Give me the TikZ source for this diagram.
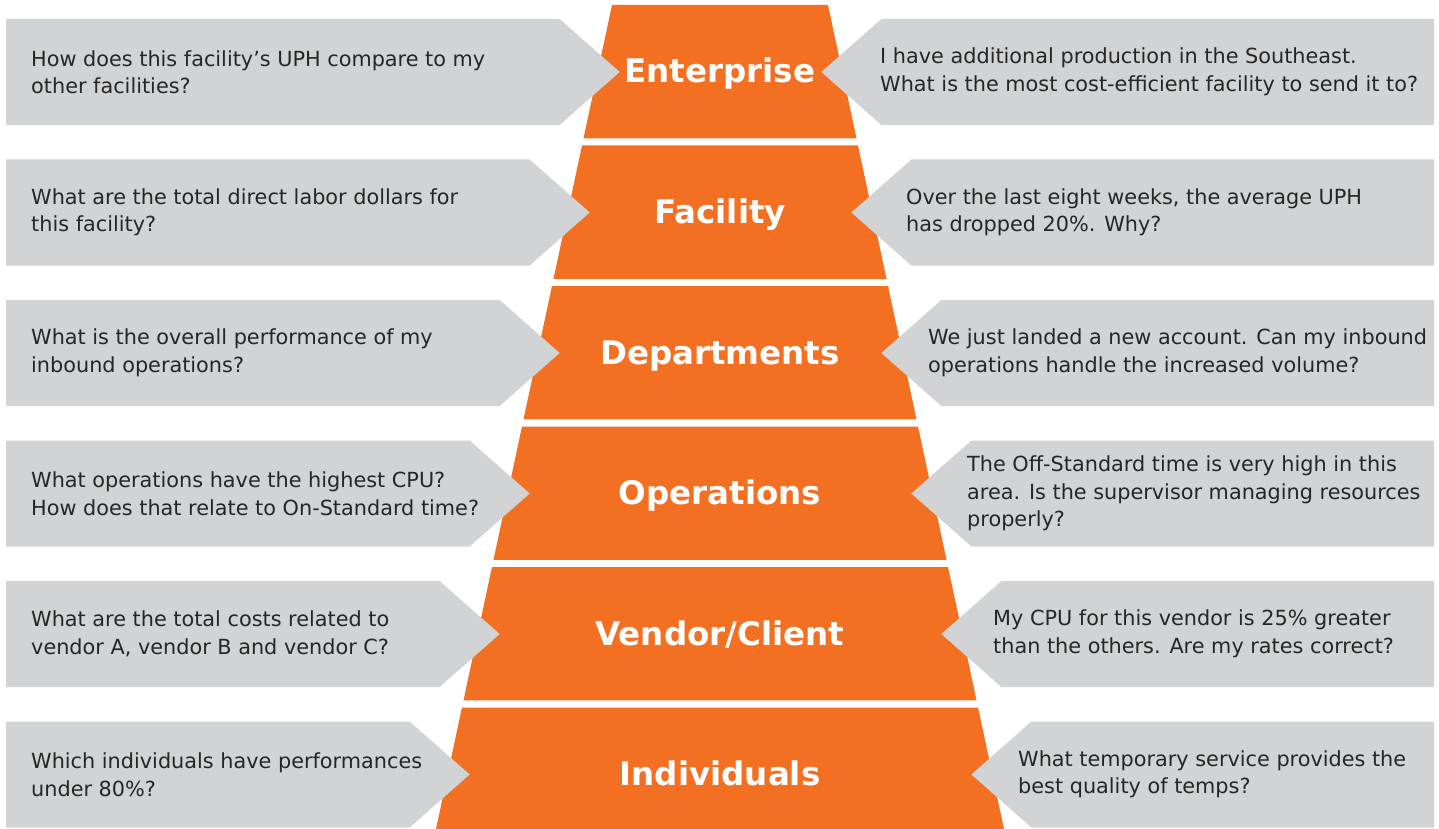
\documentclass[tikz,border=0pt]{standalone}
\usepackage{fontspec}
\setmainfont{DejaVu Sans}
\definecolor{hwOrange}{HTML}{F37022}
\definecolor{hwGray}{HTML}{D1D3D4}
\definecolor{hwText}{HTML}{262626}
\begin{document}
\begin{tikzpicture}[x=1pt,y=-1pt,
  tier/.style={fill=hwOrange},
  qbox/.style={fill=hwGray},
  title/.style={text=white,font=\fontsize{32.5}{38}\selectfont\bfseries,inner sep=0pt,anchor=base},
  qtext/.style={text=hwText,font=\fontsize{20.8}{27.5}\selectfont,align=left,inner sep=0pt,anchor=west}]
\useasboundingbox (0,0) rectangle (1439,829);
\fill[white] (0,0) rectangle (1439,829);
% pyramid tiers
\foreach \i in {0,...,5}{
  \pgfmathsetmacro{\yt}{5+140.5*\i}
  \pgfmathsetmacro{\yb}{\i==5 ? 829 : \yt+133.3}
  \pgfmathsetmacro{\ht}{108+0.2136*(\yt-5)}
  \pgfmathsetmacro{\hb}{108+0.2136*(\yb-5)}
  \fill[tier] (720-\ht,\yt) -- (720+\ht,\yt) -- (720+\hb,\yb) -- (720-\hb,\yb) -- cycle;
}
% question boxes
\foreach \i in {0,...,5}{
  \pgfmathsetmacro{\yc}{72+140.5*\i}
  \pgfmathsetmacro{\hh}{108+0.2136*(\yc-5)}
  \pgfmathsetmacro{\lt}{720-\hh+22}
  \pgfmathsetmacro{\rt}{720+\hh-21}
  \fill[qbox] (6,\yc-53) -- (\lt-60,\yc-53) -- (\lt,\yc) -- (\lt-60,\yc+53) -- (6,\yc+53) -- cycle;
  \fill[qbox] (1434,\yc-53) -- (\rt+60,\yc-53) -- (\rt,\yc) -- (\rt+60,\yc+53) -- (1434,\yc+53) -- cycle;
}
% titles
\node[title] (t1) at (720,83) {Enterprise};
\node[title] (t2) at (720,223.5) {Facility};
\node[title] (t3) at (720,364) {Departments};
\node[title] (t4) at (720,504.5) {Operations};
\node[title] (t5) at (720,645) {Vendor/Client};
\node[title] (t6) at (720,785.5) {Individuals};
% left questions
\node[qtext] (l1) at (31,72) {How does this facility’s UPH compare to my\\other facilities?};
\node[qtext] (l2) at (31,212.5) {What are the total direct labor dollars for\\this facility?};
\node[qtext] (l3) at (31,353) {What is the overall performance of my\\inbound operations?};
\node[qtext] (l4) at (31,493.5) {What operations have the highest CPU?\\How does that relate to On-Standard time?};
\node[qtext] (l5) at (31,634) {What are the total costs related to\\vendor A, vendor B and vendor C?};
\node[qtext] (l6) at (31,774.5) {Which individuals have performances\\under 80\%?};
% right questions
\node[qtext] (r1) at (880,72) {I have additional production in the Southeast.\\What is the most cost-efficient facility to send it to?};
\node[qtext] (r2) at (906,212.5) {Over the last eight weeks, the average UPH\\has dropped 20\%. Why?};
\node[qtext] (r3) at (928,353) {We just landed a new account. Can my inbound\\operations handle the increased volume?};
\node[qtext] (r4) at (967,493.5) {The Off-Standard time is very high in this\\area. Is the supervisor managing resources\\properly?};
\node[qtext] (r5) at (993,634) {My CPU for this vendor is 25\% greater\\than the others. Are my rates correct?};
\node[qtext] (r6) at (1018,774.5) {What temporary service provides the\\best quality of temps?};
\end{tikzpicture}
\end{document}
